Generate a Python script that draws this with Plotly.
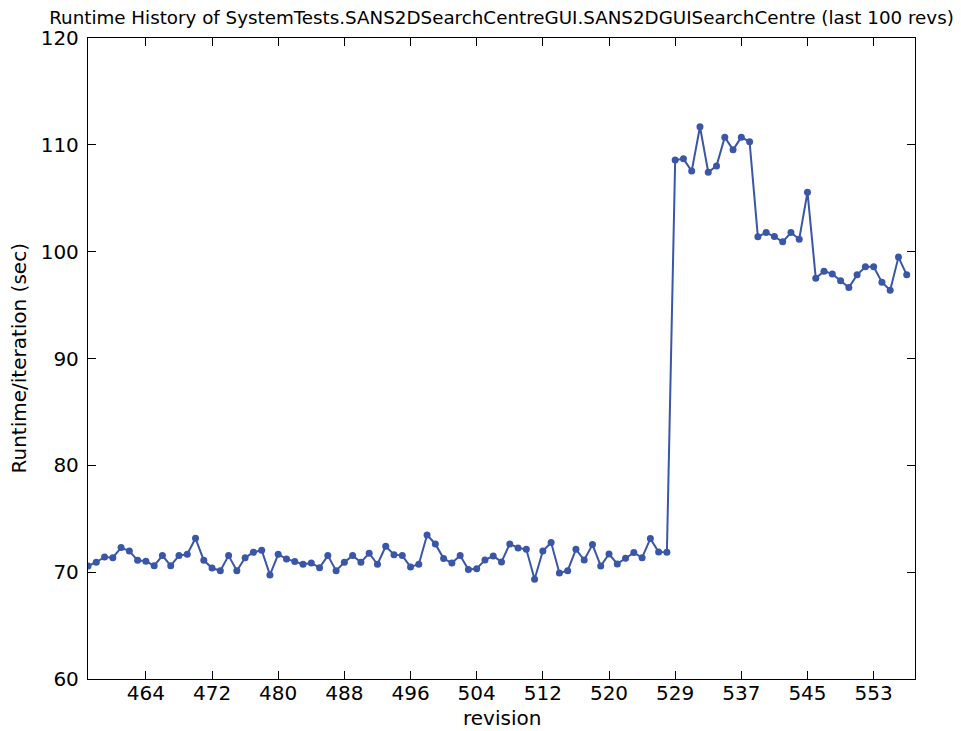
import plotly.graph_objects as go

# Runtime per iteration (sec) for the last 100 revisions, in order
runtimes = [
    70.58, 70.93, 71.42, 71.36, 72.30, 71.98, 71.11, 71.02, 70.61, 71.55,
    70.61, 71.55, 71.67, 73.17, 71.11, 70.39, 70.14, 71.55, 70.14, 71.36,
    71.86, 72.05, 69.74, 71.67, 71.24, 70.99, 70.74, 70.86, 70.42, 71.55,
    70.14, 70.93, 71.55, 70.93, 71.77, 70.74, 72.42, 71.64, 71.55, 70.49,
    70.74, 73.48, 72.64, 71.27, 70.86, 71.55, 70.24, 70.33, 71.14, 71.52,
    70.96, 72.64, 72.27, 72.14, 69.33, 71.98, 72.77, 69.93, 70.14, 72.14,
    71.14, 72.58, 70.58, 71.70, 70.77, 71.30, 71.83, 71.36, 73.14, 71.89,
    71.86, 108.57, 108.69, 107.54, 111.69, 107.44, 108.03, 110.72, 109.53, 110.72,
    110.28, 101.39, 101.79, 101.42, 100.92, 101.79, 101.17, 105.57, 97.52, 98.17,
    97.92, 97.27, 96.64, 97.83, 98.58, 98.58, 97.14, 96.39, 99.49, 97.83,
]

# Revision labels shown on the x axis and the run index each one sits at
tick_labels = ["464", "472", "480", "488", "496", "504", "512", "520", "529", "537", "545", "553"]
tick_index = [7, 15, 23, 31, 39, 47, 55, 63, 71, 79, 87, 95]

y_ticks = [60, 70, 80, 90, 100, 110, 120]

title_text = "Runtime History of SystemTests.SANS2DSearchCentreGUI.SANS2DGUISearchCentre (last 100 revs)"
x_title = "revision"
y_title = "Runtime/iteration (sec)"

run_index = list(range(len(runtimes)))

LINE = "#3a56a8"
FONT = "DejaVu Sans"

# the page adds an 8px body margin, so the figure is sized to fit the 961x731 window
W, H = 953, 723
ML, MR, MT, MB = 80, 46, 30, 52
PW, PH = W - ML - MR, H - MT - MB

fig = go.Figure()
fig.add_trace(go.Scatter(
    x=run_index, y=runtimes, mode="lines+markers",
    line=dict(color=LINE, width=2),
    marker=dict(color=LINE, size=7, line=dict(width=0)),
    showlegend=False, hoverinfo="x+y",
))

axis_common = dict(
    showgrid=False, zeroline=False, showline=True, linecolor="black", linewidth=1.3,
    mirror="ticks", ticks="inside", ticklen=8, tickwidth=1, tickcolor="black",
    tickfont=dict(family=FONT, size=20, color="black"),
)

fig.update_xaxes(range=[0, 100], tickmode="array", tickvals=tick_index, ticktext=tick_labels,
                 ticklabelstandoff=-4, **axis_common)
fig.update_yaxes(range=[60, 120], tickmode="array", tickvals=y_ticks,
                 ticktext=[str(v) for v in y_ticks], ticklabelstandoff=4, **axis_common)

fig.update_layout(
    width=W, height=H,
    margin=dict(l=ML, r=MR, t=MT, b=MB, autoexpand=False),
    paper_bgcolor="white", plot_bgcolor="white",
    font=dict(family=FONT, color="black"),
    title=dict(text=title_text, x=0.5, xref="paper", xanchor="center",
               y=1 - 9.5 / H, yref="container", yanchor="middle",
               font=dict(family=FONT, size=18.3, color="black")),
    annotations=[
        dict(text=x_title, xref="paper", yref="paper", x=0.5, y=-39 / PH,
             xanchor="center", yanchor="middle", showarrow=False,
             font=dict(family=FONT, size=20, color="black")),
        dict(text=y_title, xref="paper", yref="paper", x=-70 / PW, y=0.5,
             xanchor="center", yanchor="middle", textangle=-90, showarrow=False,
             font=dict(family=FONT, size=20, color="black")),
    ],
)

fig.write_html("out.html")
